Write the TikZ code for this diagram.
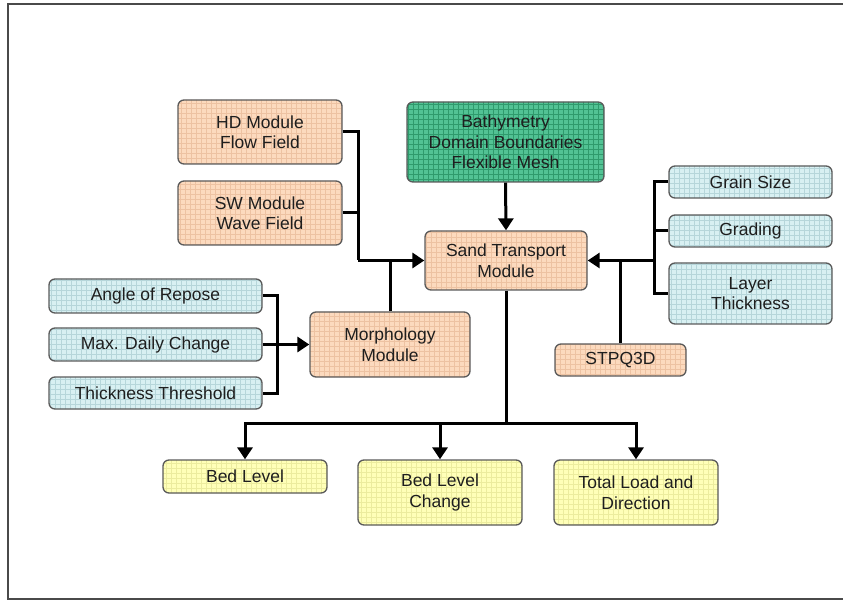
\documentclass[tikz,border=0pt]{standalone}
\usepackage{fontspec}
\setmainfont{Liberation Sans}
\usetikzlibrary{arrows.meta}
\definecolor{orfill}{HTML}{FCDABE}
\definecolor{orgrid}{HTML}{EDC2A2}
\definecolor{blfill}{HTML}{D8F0F2}
\definecolor{blgrid}{HTML}{B6D6DA}
\definecolor{grfill}{HTML}{52C294}
\definecolor{grgrid}{HTML}{2F9A6C}
\definecolor{yefill}{HTML}{FFFFB8}
\definecolor{yegrid}{HTML}{ECEC9E}
\definecolor{bordcol}{HTML}{5A5A5A}
\definecolor{framecol}{HTML}{4A4A4A}
\definecolor{txtcol}{HTML}{1E1E1E}
\tikzset{
  gbox/.style n args={2}{draw=bordcol, line width=1.3pt, rounded corners=6pt,
    fill=#1, align=center, inner sep=0pt, text=txtcol,
    font=\fontsize{17.5}{20.5}\selectfont,
    path picture={\draw[#2, line width=0.4pt]
      ([shift={(-1pt,-1pt)}]path picture bounding box.south west) grid[step=5pt]
      ([shift={(1pt,1pt)}]path picture bounding box.north east);}},
  orbox/.style={gbox={orfill}{orgrid}},
  blbox/.style={gbox={blfill}{blgrid}},
  grbox/.style={gbox={grfill}{grgrid}},
  yebox/.style={gbox={yefill}{yegrid}},
  conn/.style={line width=3pt, black},
  arr/.style={conn, -{Triangle[width=15pt,length=12pt]}},
}
\begin{document}
\begin{tikzpicture}[x=1pt,y=-1pt]
\useasboundingbox (0,0) rectangle (843,601);
\draw[framecol, line width=2pt] (845,4) -- (8,4) -- (8,599) -- (845,599);

\node[orbox, minimum width=164pt, minimum height=64pt] (hd) at (260,132) {HD Module\\Flow Field};
\node[orbox, minimum width=164pt, minimum height=64pt] (sw) at (260,213) {SW Module\\Wave Field};
\node[grbox, minimum width=197pt, minimum height=80pt] (bath) at (505.5,142) {Bathymetry\\Domain Boundaries\\Flexible Mesh};
\node[orbox, minimum width=162pt, minimum height=59pt] (sand) at (506,260.5) {Sand Transport\\Module};
\node[blbox, minimum width=163pt, minimum height=32pt] (grain) at (750.5,182) {Grain Size};
\node[blbox, minimum width=163pt, minimum height=32pt] (grading) at (750.5,231) {Grading};
\node[blbox, minimum width=163pt, minimum height=61pt] (layer) at (750.5,293.5) {Layer\\Thickness};
\node[orbox, minimum width=131pt, minimum height=32pt] (stpq) at (620.5,360) {STPQ3D};
\node[orbox, minimum width=160pt, minimum height=65pt] (morph) at (390,344.5) {Morphology\\Module};
\node[blbox, minimum width=213pt, minimum height=34pt] (angle) at (155.5,296) {Angle of Repose};
\node[blbox, minimum width=213pt, minimum height=33pt] (maxd) at (155.5,344.5) {Max. Daily Change};
\node[blbox, minimum width=213pt, minimum height=32pt] (thick) at (155.5,393) {Thickness Threshold};
\node[yebox, minimum width=164pt, minimum height=33pt] (bed) at (245,476.5) {Bed Level};
\node[yebox, minimum width=164pt, minimum height=65pt] (bedc) at (440,492.5) {Bed Level\\Change};
\node[yebox, minimum width=164pt, minimum height=65pt] (total) at (636,492.5) {Total Load and\\Direction};

\coordinate (jL) at (358,260.5);
\coordinate (jR) at (654,260.5);
\coordinate (jM) at (277,344.5);
\coordinate (jB) at (506,423);

% left inputs
\draw[conn] (hd.east) -| (jL);
\draw[conn] (sw.east) -- (sw.east -| jL);
\draw[arr] (jL) -- (sand.west);
\draw[conn] (morph.north) -- (morph.north |- sand.west);
% top input
\draw[arr] (bath.south) -- (sand.north);
% right inputs
\draw[conn] (grain.west) -| (jR) |- (layer.west);
\draw[conn] (grading.west) -- (grading.west -| jR);
\draw[arr] (jR) -- (sand.east);
\draw[conn] (stpq.north) -- (stpq.north |- sand.east);
% morphology inputs
\draw[conn] (angle.east) -| (jM) |- (thick.east);
\draw[arr] (maxd.east) -- (morph.west);
% outputs
\draw[conn] (sand.south) -- (jB);
\draw[arr] (jB) -| (bed.north);
\draw[arr] (jB) -| (total.north);
\draw[arr] (bedc.north |- jB) -- (bedc.north);
\end{tikzpicture}
\end{document}
